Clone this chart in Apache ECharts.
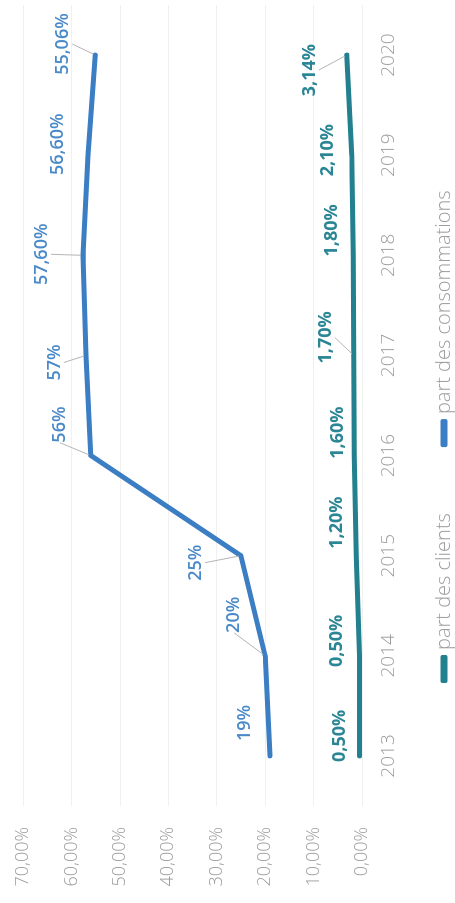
<!DOCTYPE html>
<html><head><meta charset="utf-8">
<script src="https://cdn.jsdelivr.net/npm/echarts@6/dist/echarts.min.js"></script>
<style>
html,body{margin:0;padding:0;width:455px;height:903px;overflow:hidden;background:#fff}
#chart{position:absolute;left:0;top:0;width:903px;height:455px;transform-origin:0 0;transform:translate(0,903px) rotate(-90deg);}
</style></head><body><div id="chart"></div>
<script>
// ---- data ----
const years = ['2013','2014','2015','2016','2017','2018','2019','2020'];
const partClients = [0.5, 0.5, 1.2, 1.6, 1.7, 1.8, 2.1, 3.14];
const partConsommations = [19, 20, 25, 56, 57, 57.6, 56.6, 55.06];
const seriesNames = ['part des clients', 'part des consommations'];
const valueMin = 0, valueMax = 70, valueStep = 10;

// ---- label placement (offset of label centre from its point, px) ----
const consOffsets = [[33,-25],[41,-31],[-7,-45],[31,-31],[-7,-31],[1,-41],[11,-30],[11,-32]];
const consLeader  = [false,true,true,true,true,true,false,true];
const clientOffsets = [[20,-20],[15,-23],[33,-19],[23,-16],[18,-28],[25,-21],[5,-24],[-15,-37]];
const clientLeader  = [false,false,false,false,true,false,false,true];

function fmtPct(v){
  return Number.isInteger(v) ? v + '%' : v.toFixed(2).replace('.', ',') + '%';
}
function layoutFor(offsets){
  return function(p){
    const o = offsets[p.dataIndex];
    const cx = p.rect.x + p.rect.width/2, cy = p.rect.y + p.rect.height/2;
    return { x: cx + o[0], y: cy + o[1], align: 'center', verticalAlign: 'middle' };
  };
}
const FONT = '"Open Sans", "Noto Sans", sans-serif';
const consColor = '#3b7ec3', clientColor = '#22808f';

const chart = echarts.init(document.getElementById('chart'), null, {renderer:'canvas'});
chart.setOption({
  animation: false,
  backgroundColor: '#fff',
  grid: { left: 97, right: 5, top: 23, bottom: 93 },
  legend: {
    data: seriesNames,
    left: 215, top: 429,
    icon: 'roundRect', itemWidth: 28, itemHeight: 7, itemGap: 66,
    textStyle: { fontFamily: FONT, fontSize: 20, color: '#9c9c9c', fontWeight: 300 }
  },
  xAxis: {
    type: 'category', data: years, boundaryGap: true,
    axisLine: { show: false }, axisTick: { show: false },
    axisLabel: { fontFamily: FONT, fontSize: 19, color: '#9c9c9c', margin: 17, fontWeight: 300 }
  },
  yAxis: {
    type: 'value', min: valueMin, max: valueMax, interval: valueStep,
    axisLine: { show: false }, axisTick: { show: false },
    splitLine: { lineStyle: { color: '#f0f0f0', width: 1 } },
    axisLabel: { fontFamily: FONT, fontSize: 18, color: '#9c9c9c', margin: 21, fontWeight: 300,
      formatter: v => v.toFixed(2).replace('.', ',') + '%' }
  },
  series: [
    {
      name: seriesNames[0], type: 'line',
      data: partClients.map((v,i)=>({ value: v, labelLine: { show: clientLeader[i] } })),
      symbol: 'circle', symbolSize: 4,
      itemStyle: { color: clientColor },
      lineStyle: { color: clientColor, width: 5, cap: 'round', join: 'round' },
      label: { show: true, formatter: p => fmtPct(p.value), fontFamily: FONT, fontSize: 18,
               fontWeight: 'bold', color: '#2a8595' },
      labelLine: { show: false, lineStyle: { color: '#b5b5b5', width: 1 } },
      labelLayout: layoutFor(clientOffsets)
    },
    {
      name: seriesNames[1], type: 'line',
      data: partConsommations.map((v,i)=>({ value: v, labelLine: { show: consLeader[i] } })),
      symbol: 'circle', symbolSize: 4,
      itemStyle: { color: consColor },
      lineStyle: { color: consColor, width: 5, cap: 'round', join: 'round' },
      label: { show: true, formatter: p => fmtPct(p.value), fontFamily: FONT, fontSize: 18,
               fontWeight: 600, color: '#4a8ac9' },
      labelLine: { show: false, lineStyle: { color: '#b5b5b5', width: 1 } },
      labelLayout: layoutFor(consOffsets)
    }
  ]
});
</script></body></html>
